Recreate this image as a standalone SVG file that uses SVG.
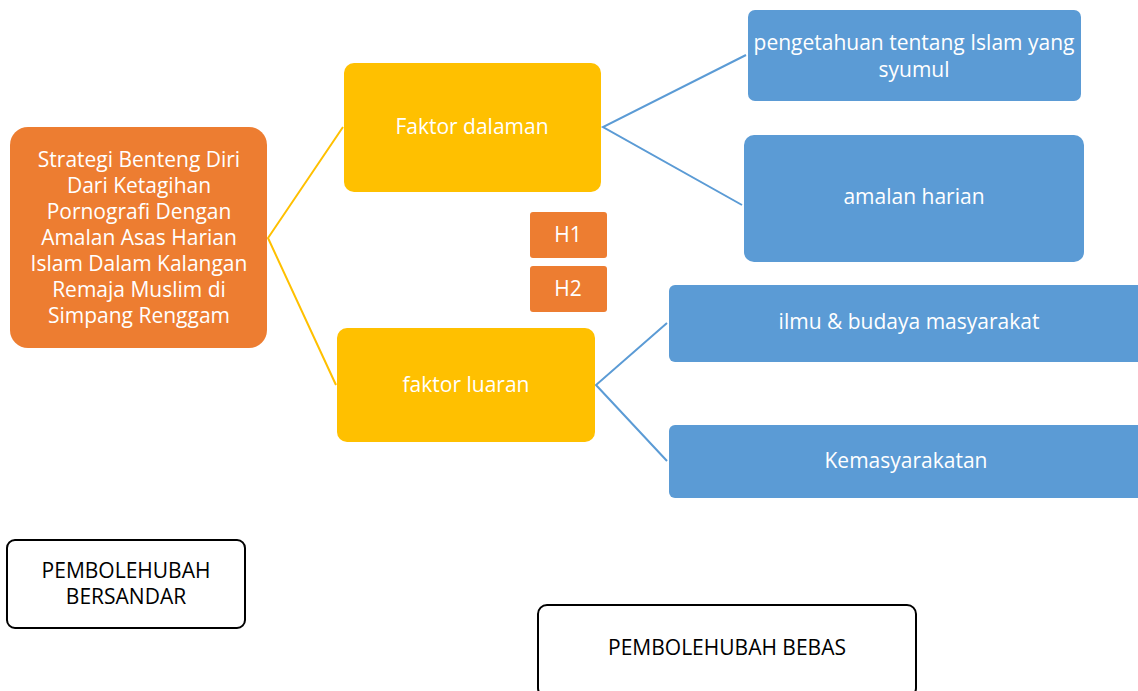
<svg xmlns="http://www.w3.org/2000/svg" width="1138" height="691" viewBox="0 0 1138 691">
<style>
text{font-family:"Open Sans","Noto Sans",sans-serif;text-anchor:middle;font-size:21px}
.w{fill:#fff}
.k{fill:#000}
.or{fill:#ED7D31}
.ye{fill:#FFC000}
.bl{fill:#5B9BD5}
.ol{fill:#fff;stroke:#000;stroke-width:2}
.cy{stroke:#FFC000;stroke-width:2;fill:none}
.cb{stroke:#5B9BD5;stroke-width:2;fill:none}
</style>
<rect width="1138" height="691" fill="#fff"/>
<g id="connectors">
<polyline class="cy" points="343,127 268,238 336,385"/>
<polyline class="cb" points="746,55 603,127 742,205"/>
<polyline class="cb" points="667,323 596,385 667,461"/>
</g>
<g id="main">
<rect class="or" x="10" y="127" width="257" height="221" rx="18"/>
<text class="w"><tspan x="139" y="167">Strategi Benteng Diri</tspan><tspan x="139" y="193">Dari Ketagihan</tspan><tspan x="139" y="219">Pornografi Dengan</tspan><tspan x="139" y="245">Amalan Asas Harian</tspan><tspan x="139" y="271">Islam Dalam Kalangan</tspan><tspan x="139" y="297">Remaja Muslim di</tspan><tspan x="139" y="323">Simpang Renggam</tspan></text>
</g>
<g id="faktor-dalaman">
<rect class="ye" x="344" y="63" width="257" height="129" rx="10"/>
<text class="w" x="472" y="134">Faktor dalaman</text>
</g>
<g id="faktor-luaran">
<rect class="ye" x="337" y="328" width="258" height="114" rx="10"/>
<text class="w" x="466" y="392">faktor luaran</text>
</g>
<g id="h1">
<rect class="or" x="530" y="212" width="77" height="46" rx="3"/>
<text class="w" x="568" y="242">H1</text>
</g>
<g id="h2">
<rect class="or" x="530" y="266" width="77" height="46" rx="3"/>
<text class="w" x="568" y="296">H2</text>
</g>
<g id="pengetahuan">
<rect class="bl" x="748" y="10" width="333" height="91" rx="7"/>
<text class="w"><tspan x="914" y="50">pengetahuan tentang Islam yang</tspan><tspan x="914" y="77">syumul</tspan></text>
</g>
<g id="amalan">
<rect class="bl" x="744" y="135" width="340" height="127" rx="10"/>
<text class="w" x="914" y="204">amalan harian</text>
</g>
<g id="ilmu">
<rect class="bl" x="669" y="285" width="480" height="77" rx="6"/>
<text class="w" x="909" y="329">ilmu &amp; budaya masyarakat</text>
</g>
<g id="kemasyarakatan">
<rect class="bl" x="669" y="425" width="480" height="73" rx="6"/>
<text class="w" x="906" y="468">Kemasyarakatan</text>
</g>
<g id="bersandar">
<rect class="ol" x="7" y="540" width="238" height="88" rx="8"/>
<text class="k"><tspan x="126" y="578">PEMBOLEHUBAH</tspan><tspan x="126" y="604">BERSANDAR</tspan></text>
</g>
<g id="bebas">
<rect class="ol" x="538" y="605" width="378" height="92" rx="9"/>
<text class="k" x="727" y="655">PEMBOLEHUBAH BEBAS</text>
</g>
</svg>
